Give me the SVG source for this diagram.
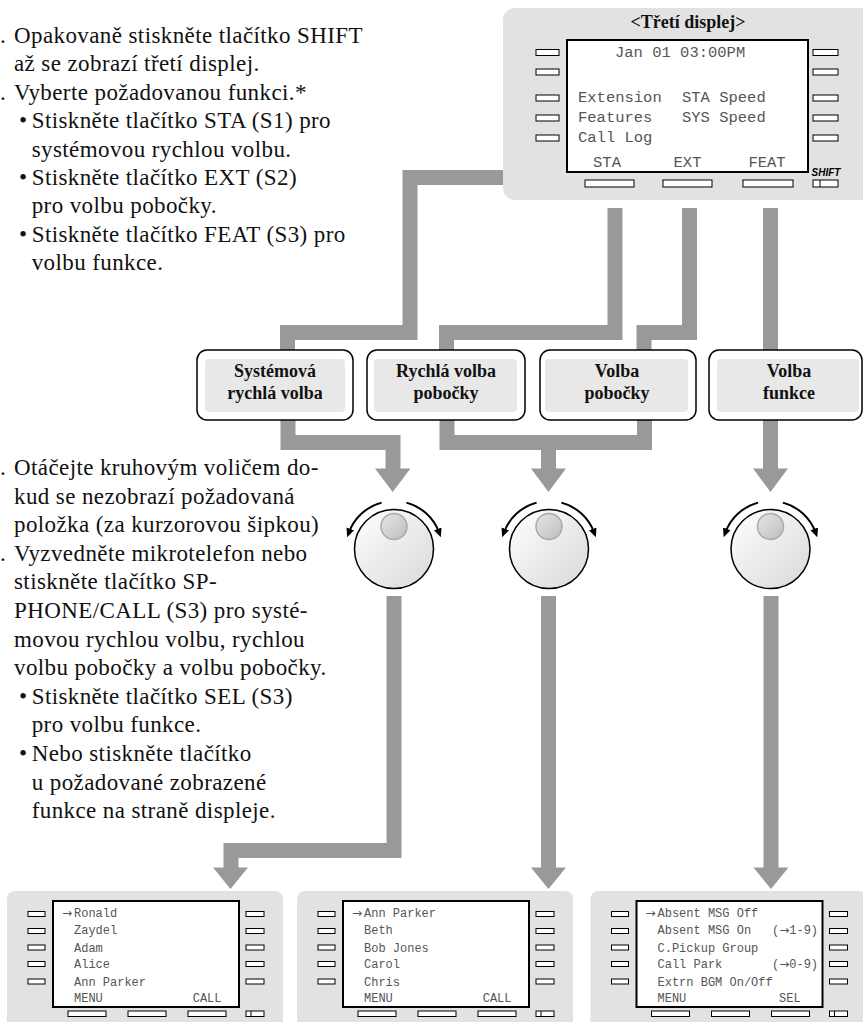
<svg xmlns="http://www.w3.org/2000/svg" width="863" height="1022" viewBox="0 0 863 1022">
<style>
.body{font-family:"Liberation Serif","Times New Roman",serif;font-size:23px;letter-spacing:0.4px;fill:#111}
.node-outer{fill:#fff;stroke:#000;stroke-width:1.5}
.node-inner{fill:#e8e8e8}
.node-text{font-family:"Liberation Serif","Times New Roman",serif;font-size:18px;font-weight:bold;text-anchor:middle;fill:#111}
.panel{fill:#e2e2e2}
.lcd{fill:#fff;stroke:#000;stroke-width:2}
.btn{fill:#fff;stroke:#000;stroke-width:1}
.mono{font-family:"Liberation Mono","DejaVu Sans Mono",monospace;fill:#555}
.arr{font-family:"DejaVu Sans",sans-serif}
.big{font-size:15.5px}
.small{font-size:12px}
.conn{fill:none;stroke:#999;stroke-width:15;stroke-linejoin:miter}
.head{fill:#999}
.dial{fill:url(#dialGrad);stroke:#000;stroke-width:1.5}
.knob{fill:url(#knobGrad);stroke:#aaa;stroke-width:1.5}
.rot{fill:none;stroke:#000;stroke-width:2}
</style>
<defs>
<linearGradient id="dialGrad" x1="0" y1="0" x2="1" y2="1">
<stop offset="0" stop-color="#ffffff"/><stop offset="1" stop-color="#d8d8d8"/>
</linearGradient>
<linearGradient id="knobGrad" x1="0" y1="0" x2="1" y2="1">
<stop offset="0" stop-color="#e6e6e6"/><stop offset="1" stop-color="#bdbdbd"/>
</linearGradient>
<marker id="rotHead" markerUnits="userSpaceOnUse" markerWidth="10" markerHeight="10" refX="4" refY="4" orient="auto">
<path d="M0,0 L9,4 L0,8 z" fill="#000"/>
</marker>
<g id="smallPhone">
<rect class="panel" x="7" y="891" width="276" height="140" rx="8"/>
<rect class="lcd" x="53" y="901" width="186" height="106"/>
<rect class="btn" x="28" y="911.5" width="17" height="5"/>
<rect class="btn" x="28" y="928.5" width="17" height="5"/>
<rect class="btn" x="28" y="945" width="17" height="5"/>
<rect class="btn" x="28" y="961.5" width="17" height="5"/>
<rect class="btn" x="28" y="979" width="17" height="5"/>
<rect class="btn" x="246" y="911.5" width="18" height="5"/>
<rect class="btn" x="246" y="928.5" width="18" height="5"/>
<rect class="btn" x="246" y="945" width="18" height="5"/>
<rect class="btn" x="246" y="961.5" width="18" height="5"/>
<rect class="btn" x="246" y="979" width="18" height="5"/>
<rect class="btn" x="68" y="1011" width="38" height="5.5"/>
<rect class="btn" x="128" y="1011" width="38" height="5.5"/>
<rect class="btn" x="188" y="1011" width="38" height="5.5"/>
<rect class="btn" x="246" y="1011" width="18" height="5.5"/>
<line x1="251" y1="1011" x2="251" y2="1016.5" stroke="#000" stroke-width="1"/>
</g>
</defs>

<rect width="863" height="1022" fill="#fff"/>

<!-- connectors -->
<g id="connectors">
<path class="conn" d="M510 177.5 H410 V332.5 H287.5 V352"/>
<path class="conn" d="M615 208 V332.5 H446.5 V352"/>
<path class="conn" d="M689.5 208 V332.5 H644 V352"/>
<path class="conn" d="M770.5 208 V352"/>
<path class="conn" d="M288 418 V442.5 H393 V470"/>
<polygon class="head" points="375,468.5 410.5,468.5 392.7,492"/>
<path class="conn" d="M447 418 V442.5 H644.5 V418"/>
<path class="conn" d="M548.5 442.5 V470"/>
<polygon class="head" points="531,468.5 566,468.5 548.5,492"/>
<path class="conn" d="M770.5 418 V470"/>
<polygon class="head" points="753,468.5 788,468.5 770.5,492"/>
<path class="conn" d="M394 596 V850.5 H231 V870"/>
<polygon class="head" points="213,867.5 248,867.5 230.5,889"/>
<path class="conn" d="M548.5 596 V870"/>
<polygon class="head" points="531,867.5 566,867.5 548.5,889"/>
<path class="conn" d="M771 596 V870"/>
<polygon class="head" points="753.5,867.5 788.5,867.5 771,889"/>
</g>

<!-- top phone display -->
<g id="third-display">
<rect class="panel" x="503" y="8" width="380" height="192" rx="12"/>
<text x="688" y="28" text-anchor="middle" style="font-family:'Liberation Serif',serif;font-size:18px;font-weight:bold;fill:#111">&lt;Třetí displej&gt;</text>
<rect class="lcd" x="567" y="40" width="241" height="132"/>
<rect class="btn" x="536" y="49.5" width="23" height="6"/>
<rect class="btn" x="536" y="69" width="23" height="6"/>
<rect class="btn" x="536" y="95" width="23" height="6"/>
<rect class="btn" x="536" y="115" width="23" height="6"/>
<rect class="btn" x="536" y="135" width="23" height="6"/>
<rect class="btn" x="813" y="49.5" width="25" height="6"/>
<rect class="btn" x="813" y="69" width="25" height="6"/>
<rect class="btn" x="813" y="95" width="25" height="6"/>
<rect class="btn" x="813" y="115" width="25" height="6"/>
<rect class="btn" x="813" y="135" width="25" height="6"/>
<rect class="btn" x="585" y="180" width="49" height="7"/>
<rect class="btn" x="663" y="180" width="49" height="7"/>
<rect class="btn" x="743" y="180" width="50" height="7"/>
<rect class="btn" x="813" y="180" width="25" height="7"/>
<line x1="820" y1="180" x2="820" y2="187" stroke="#000" stroke-width="1"/>
<text class="mono big" x="615" y="57">Jan 01 03:00PM</text>
<text class="mono big" x="578" y="102">Extension</text>
<text class="mono big" x="682" y="102">STA Speed</text>
<text class="mono big" x="578" y="122">Features</text>
<text class="mono big" x="682" y="122">SYS Speed</text>
<text class="mono big" x="578" y="142">Call Log</text>
<text class="mono big" x="607" y="167" text-anchor="middle">STA</text>
<text class="mono big" x="687.5" y="167" text-anchor="middle">EXT</text>
<text class="mono big" x="767" y="167" text-anchor="middle">FEAT</text>
<text x="826" y="176" text-anchor="middle" style="font-family:'Liberation Sans',Arial,sans-serif;font-size:10px;font-weight:bold;font-style:italic;fill:#000">SHIFT</text>
</g>

<!-- instructions top -->
<g id="steps-1-2">
<text class="body" x="0" y="43">.</text>
<text class="body" x="14" y="43">Opakovaně stiskněte tlačítko SHIFT</text>
<text class="body" x="14" y="71.4">až se zobrazí třetí displej.</text>
<text class="body" x="0" y="99.8">.</text>
<text class="body" x="14" y="99.8">Vyberte požadovanou funkci.*</text>
<text class="body" y="128.2"><tspan x="19">•</tspan><tspan x="31.7">Stiskněte tlačítko STA (S1) pro</tspan></text>
<text class="body" x="31.7" y="156.6">systémovou rychlou volbu.</text>
<text class="body" y="185"><tspan x="19">•</tspan><tspan x="31.7">Stiskněte tlačítko EXT (S2)</tspan></text>
<text class="body" x="31.7" y="213.4">pro volbu pobočky.</text>
<text class="body" y="241.8"><tspan x="19">•</tspan><tspan x="31.7">Stiskněte tlačítko FEAT (S3) pro</tspan></text>
<text class="body" x="31.7" y="270.2">volbu funkce.</text>
</g>

<!-- instructions bottom -->
<g id="steps-3-4">
<text class="body" x="0" y="475">.</text>
<text class="body" x="14" y="475">Otáčejte kruhovým voličem do-</text>
<text class="body" x="14" y="503.6">kud se nezobrazí požadovaná</text>
<text class="body" x="14" y="532.2">položka (za kurzorovou šipkou)</text>
<text class="body" x="0" y="560.8">.</text>
<text class="body" x="14" y="560.8">Vyzvedněte mikrotelefon nebo</text>
<text class="body" x="14" y="589.4">stiskněte tlačítko SP-</text>
<text class="body" x="14" y="618">PHONE/CALL (S3) pro systé-</text>
<text class="body" x="14" y="646.6">movou rychlou volbu, rychlou</text>
<text class="body" x="14" y="675.2">volbu pobočky a volbu pobočky.</text>
<text class="body" y="703.8"><tspan x="19">•</tspan><tspan x="31.7">Stiskněte tlačítko SEL (S3)</tspan></text>
<text class="body" x="31.7" y="732.4">pro volbu funkce.</text>
<text class="body" y="761"><tspan x="19">•</tspan><tspan x="31.7">Nebo stiskněte tlačítko</tspan></text>
<text class="body" x="31.7" y="789.6">u požadované zobrazené</text>
<text class="body" x="31.7" y="818.2">funkce na straně displeje.</text>
</g>

<!-- nodes -->
<g id="node-sys-speed">
<rect class="node-outer" x="197" y="350" width="156" height="70" rx="10"/>
<rect class="node-inner" x="205" y="359" width="140" height="53" rx="4"/>
<text class="node-text" x="275" y="377">Systémová</text>
<text class="node-text" x="275" y="399">rychlá volba</text>
</g>
<g id="node-sta-speed">
<rect class="node-outer" x="367" y="350" width="158" height="70" rx="10"/>
<rect class="node-inner" x="374" y="359" width="143" height="53" rx="4"/>
<text class="node-text" x="446" y="377">Rychlá volba</text>
<text class="node-text" x="446" y="399">pobočky</text>
</g>
<g id="node-extension">
<rect class="node-outer" x="540" y="350" width="156" height="70" rx="10"/>
<rect class="node-inner" x="545" y="359" width="143" height="53" rx="4"/>
<text class="node-text" x="617" y="377">Volba</text>
<text class="node-text" x="617" y="399">pobočky</text>
</g>
<g id="node-features">
<rect class="node-outer" x="709" y="350" width="153" height="70" rx="10"/>
<rect class="node-inner" x="717" y="359" width="142" height="53" rx="4"/>
<text class="node-text" x="789" y="377">Volba</text>
<text class="node-text" x="789" y="399">funkce</text>
</g>

<!-- dials -->
<g id="dial-1">
<circle class="dial" cx="394" cy="549" r="39.5"/>
<circle class="knob" cx="394" cy="526.5" r="13"/>
<path class="rot" d="M381.6 502.6 A48 48 0 0 0 348.9 532.6" marker-end="url(#rotHead)"/>
<path class="rot" d="M406.4 502.6 A48 48 0 0 1 439.1 532.6" marker-end="url(#rotHead)"/>
</g>
<g id="dial-2">
<circle class="dial" cx="549" cy="549" r="39.5"/>
<circle class="knob" cx="549" cy="526.5" r="13"/>
<path class="rot" d="M536.6 502.6 A48 48 0 0 0 503.9 532.6" marker-end="url(#rotHead)"/>
<path class="rot" d="M561.4 502.6 A48 48 0 0 1 594.1 532.6" marker-end="url(#rotHead)"/>
</g>
<g id="dial-3">
<circle class="dial" cx="770.5" cy="549" r="39.5"/>
<circle class="knob" cx="770.5" cy="526.5" r="13"/>
<path class="rot" d="M758.1 502.6 A48 48 0 0 0 725.4 532.6" marker-end="url(#rotHead)"/>
<path class="rot" d="M782.9 502.6 A48 48 0 0 1 815.6 532.6" marker-end="url(#rotHead)"/>
</g>

<!-- bottom displays -->
<g id="display-sys-speed">
<use href="#smallPhone"/>
<text class="mono small" y="917"><tspan class="arr" x="62">→</tspan><tspan x="74">Ronald</tspan></text>
<text class="mono small" x="74" y="934">Zaydel</text>
<text class="mono small" x="74" y="951.5">Adam</text>
<text class="mono small" x="74" y="968">Alice</text>
<text class="mono small" x="74" y="985.5">Ann Parker</text>
<text class="mono small" x="74" y="1001.5">MENU</text>
<text class="mono small" x="192.7" y="1001.5">CALL</text>
</g>
<g id="display-sta-speed">
<use href="#smallPhone" transform="translate(290,0)"/>
<text class="mono small" y="917"><tspan class="arr" x="352">→</tspan><tspan x="364">Ann Parker</tspan></text>
<text class="mono small" x="364" y="934">Beth</text>
<text class="mono small" x="364" y="951.5">Bob Jones</text>
<text class="mono small" x="364" y="968">Carol</text>
<text class="mono small" x="364" y="985.5">Chris</text>
<text class="mono small" x="364" y="1001.5">MENU</text>
<text class="mono small" x="482.7" y="1001.5">CALL</text>
</g>
<g id="display-features">
<use href="#smallPhone" transform="translate(583.5,0)"/>
<text class="mono small" y="917"><tspan class="arr" x="645.5">→</tspan><tspan x="657.5">Absent MSG Off</tspan></text>
<text class="mono small" x="657.5" y="934">Absent MSG On</text>
<text class="mono small" y="934"><tspan x="772">(</tspan><tspan class="arr">→</tspan><tspan>1-9)</tspan></text>
<text class="mono small" x="657.5" y="951.5">C.Pickup Group</text>
<text class="mono small" x="657.5" y="968">Call Park</text>
<text class="mono small" y="968"><tspan x="772">(</tspan><tspan class="arr">→</tspan><tspan>0-9)</tspan></text>
<text class="mono small" x="657.5" y="985.5">Extrn BGM On/Off</text>
<text class="mono small" x="657.5" y="1001.5">MENU</text>
<text class="mono small" x="779" y="1001.5">SEL</text>
</g>
</svg>
